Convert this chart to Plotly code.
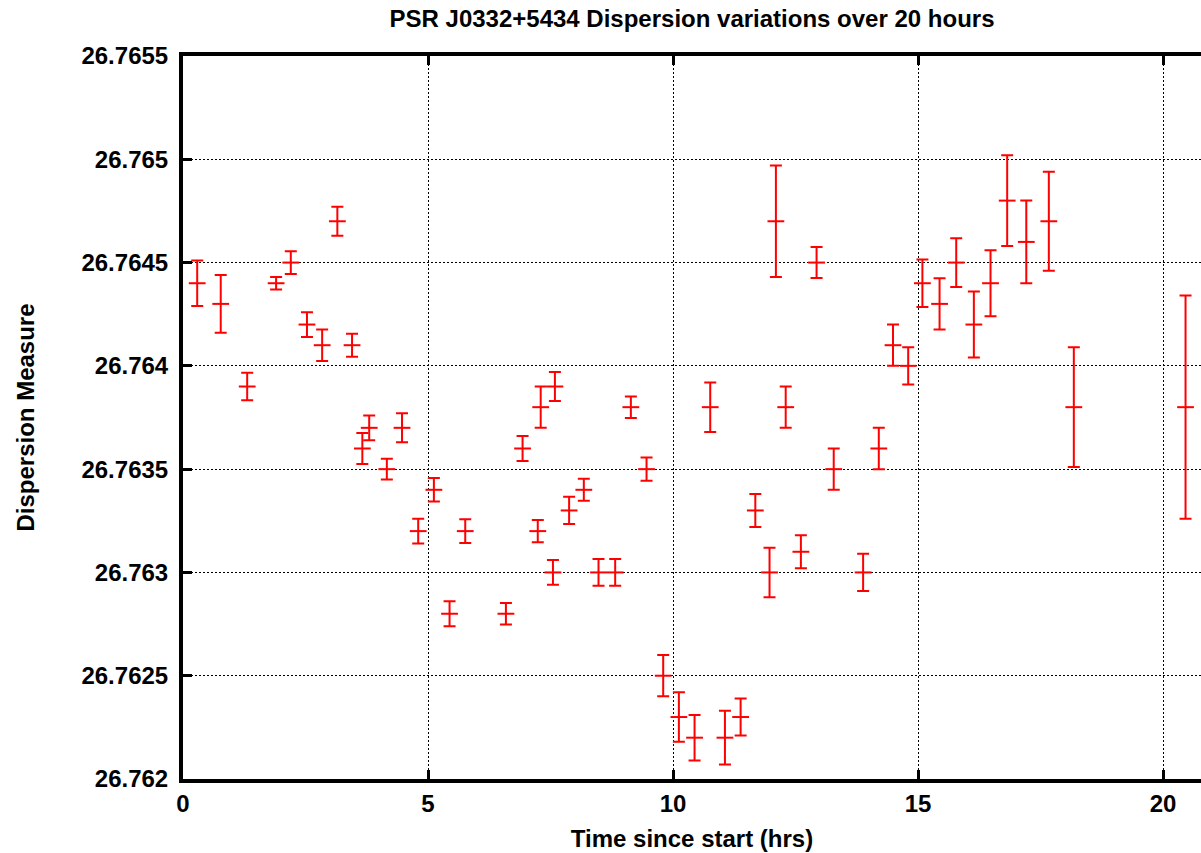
import plotly.graph_objects as go

# ---- data ----
time_hrs = [0.29, 0.77, 1.31, 1.90, 2.20, 2.53, 2.84, 3.15, 3.45, 3.66,
            3.80, 4.16, 4.47, 4.80, 5.12, 5.44, 5.76, 6.59, 6.93, 7.24,
            7.30, 7.55, 7.59, 7.88, 8.18, 8.48, 8.82, 9.14, 9.46, 9.80,
            10.12, 10.44, 10.76, 11.06, 11.38, 11.68, 11.97, 12.10, 12.30, 12.61,
            12.93, 13.28, 13.88, 14.20, 14.49, 14.80, 15.09, 15.44, 15.78, 16.14,
            16.48, 16.82, 17.21, 17.67, 18.18, 20.46]

dm = [26.7644, 26.7643, 26.7639, 26.7644, 26.7645, 26.7642, 26.7641, 26.7647, 26.7641, 26.7636,
      26.7637, 26.7635, 26.7637, 26.7632, 26.7634, 26.7628, 26.7632, 26.7628, 26.7636, 26.7632,
      26.7638, 26.7630, 26.7639, 26.7633, 26.7634, 26.7630, 26.7630, 26.7638, 26.7635, 26.7625,
      26.7623, 26.7622, 26.7638, 26.7622, 26.7623, 26.7633, 26.7630, 26.7647, 26.7638, 26.7631,
      26.7645, 26.7635, 26.7630, 26.7636, 26.7641, 26.7640, 26.7644, 26.7643, 26.7645, 26.7642,
      26.7644, 26.7648, 26.7646, 26.7647, 26.7638, 26.7638]

dm_err = [0.00011, 0.00014, 0.000067, 0.00003, 0.000055, 0.00006, 0.000076, 0.00007, 0.000056, 0.000075,
          0.00006, 0.00005, 0.00007, 0.00006, 0.000057, 0.00006, 0.000058, 0.000052, 0.00006, 0.000054,
          0.0001, 0.00006, 0.00007, 0.000066, 0.000053, 0.000065, 0.000065, 0.000052, 0.000056, 0.0001,
          0.00012, 0.00011, 0.00012, 0.00013, 0.00009, 0.00008, 0.00012, 0.00027, 0.0001, 0.00008,
          0.000075, 0.0001, 0.00009, 0.0001, 0.0001, 0.00009, 0.000115, 0.000124, 0.000118, 0.00016,
          0.00016, 0.00022, 0.0002, 0.00024, 0.00029, 0.00054]

x_ticks = [0, 5, 10, 15, 20]
x_ticktext = ["0", "5", "10", "15", "20"]
y_ticks = [26.762, 26.7625, 26.763, 26.7635, 26.764, 26.7645, 26.765, 26.7655]
y_ticktext = ["26.762", "26.7625", "26.763", "26.7635", "26.764", "26.7645", "26.765", "26.7655"]

FONT = "Liberation Sans"
FS = 24

fig = go.Figure()
fig.add_trace(go.Scatter(
    x=time_hrs, y=dm, mode="markers",
    marker=dict(symbol="line-ew", size=12, color="red",
                line=dict(width=2, color="red")),
    error_y=dict(type="data", array=dm_err, visible=True,
                 color="red", thickness=2, width=6),
    showlegend=False,
    cliponaxis=False,
))

fig.update_layout(
    width=1201, height=853,
    margin=dict(l=183, r=0, t=56, b=74, autoexpand=False),
    paper_bgcolor="white", plot_bgcolor="white",
    title=dict(text="PSR J0332+5434 Dispersion variations over 20 hours",
               x=692 / 1201, xanchor="center", xref="container",
               y=1 - 19 / 853, yanchor="middle", yref="container",
               font=dict(family=FONT, size=FS, color="black", weight="bold")),
    font=dict(family=FONT, color="black"),
)

fig.update_xaxes(
    range=[0, (1201 - 183) / 49.0],
    tickmode="array", tickvals=x_ticks, ticktext=x_ticktext,
    ticks="inside", ticklen=9, tickwidth=3, tickcolor="black",
    showline=True, linewidth=4, linecolor="black", mirror="ticks",
    showgrid=True, gridcolor="black", gridwidth=1, griddash="2px,2px",
    zeroline=False, automargin=False,
    tickfont=dict(family=FONT, size=FS, color="black", weight="bold"),
    title=dict(text="Time since start (hrs)", standoff=15,
               font=dict(family=FONT, size=FS, color="black", weight="bold")),
)

fig.update_yaxes(
    range=[26.762, 26.7655],
    tickmode="array", tickvals=y_ticks, ticktext=y_ticktext,
    ticks="inside", ticklen=9, tickwidth=3, tickcolor="black",
    showline=True, linewidth=4, linecolor="black", mirror=False,
    showgrid=True, gridcolor="black", gridwidth=1, griddash="2px,2px",
    zeroline=False, automargin=False,
    ticklabelstandoff=6,
    tickfont=dict(family=FONT, size=FS, color="black", weight="bold"),
    title=dict(text="Dispersion Measure", standoff=41,
               font=dict(family=FONT, size=FS, color="black", weight="bold")),
)

fig.write_html("out.html")
